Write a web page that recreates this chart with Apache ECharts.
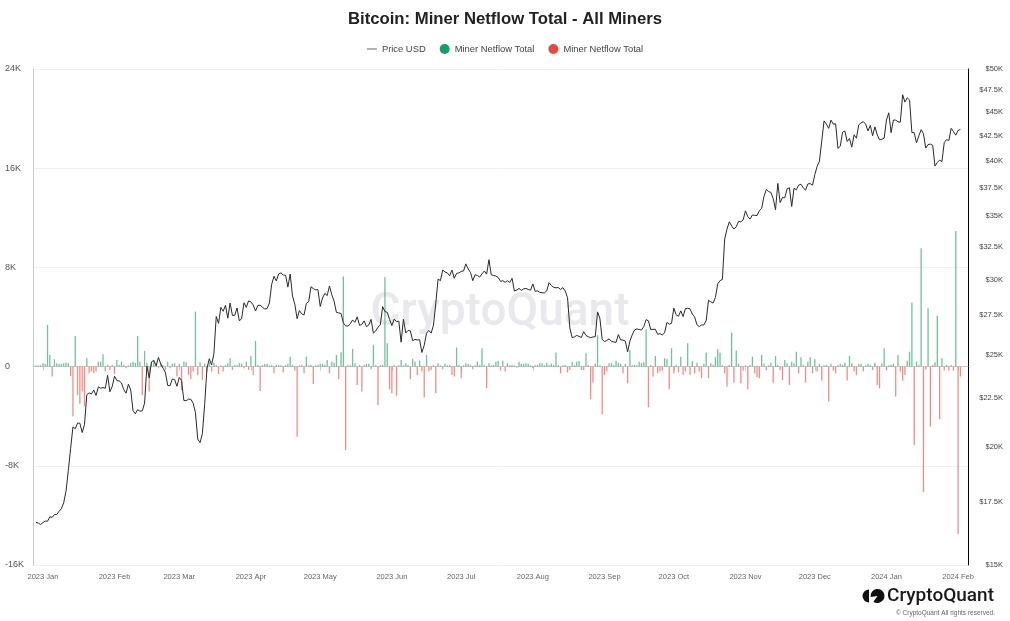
<!DOCTYPE html>
<html>
<head>
<meta charset="utf-8">
<script src="https://cdn.jsdelivr.net/npm/echarts@6/dist/echarts.min.js"></script>
<style>html,body{margin:0;padding:0;background:#fff}#c{width:1010px;height:621px}</style>
</head>
<body>
<div id="c"></div>
<script>
// ---- Data (daily) ----
const monthNames = ['Jan','Feb','Mar','Apr','May','Jun','Jul','Aug','Sep','Oct','Nov','Dec'];
const leftTicks = [-16000, -8000, 0, 8000, 16000, 24000];
const rightTicks = [15000,17500,20000,22500,25000,27500,30000,32500,35000,37500,40000,42500,45000,47500,50000];

// Price USD per day
const px2022Dec = [16634,16607,16547]; // from Dec 29
const px2023Jan = [16625,16688,16680,16863,16836,16951,16955,17091,17196,17446,17934,18869,19910,20976,20880,21170,21161,20688,21086,22676,22777,22720,22934,22636,23117,23032,23078,23032,23774,22840,23139];
const px2023Feb = [23723,23471,23449,23331,22955,22760,23264,22939,21819,21651,21870,21788,21808,22220,24307,23623,24565,24641,24327,24829,24436,24188,23947,23199,23175,23561,23522,23147];
const px2023Mar = [23646,23475,22362,22353,22435,22429,22219,21718,20363,20187,20633,22163,24197,24746,24375,25052,27423,26965,28038,27767,28175,27307,28333,27493,27494,27994,27139,27268,28348,28033,28478];
const px2023Apr = [28411,28199,27790,28168,28177,28044,27925,27947,28333,29653,30235,29892,30399,30485,30318,30315,29445,30397,28823,28245,27276,27817,27591,27525,28307,28422,29473,29340,29248,29268];
const px2023May = [28091,28680,29006,28847,29534,28905,28454,27694,27659,27621,27000,26804,26785,26930,27192,27036,27399,26832,26890,27129,26753,26851,27225,26334,26476,26719,26868,28085,27745,27702,27219];
const px2023Jun = [26819,27249,27075,27119,25760,27238,26346,26508,26480,25851,25940,25902,25918,25124,25576,26327,26510,26336,26852,28327,30027,29912,30695,30548,30481,30271,30689,30086,30446,30477];
const px2023Jul = [30590,30620,31156,30777,30514,29910,30346,30292,30171,30414,30620,30391,31476,30334,30295,30249,30145,29856,29913,29792,29908,29771,30084,29176,29228,29354,29210,29319,29357,29275,29230];
const px2023Aug = [29675,29152,29178,29075,29042,29041,29180,29766,29561,29429,29397,29415,29282,29408,29170,28701,26664,26049,26097,26189,26125,26056,26432,26181,26105,26046,26090,26106,27728,27297,25931];
const px2023Sep = [25800,25869,25969,25813,25780,25753,26241,25906,25895,25832,25163,25834,26228,26539,26608,26568,26535,26755,27211,27132,26567,26579,26580,26257,26298,26217,26353,27022,26911,26967];
const px2023Oct = [27983,27530,27430,27799,27415,27946,27968,27936,27583,27392,26873,26756,26862,26861,27159,28519,28415,28328,28719,29682,29918,29993,33086,33901,34502,34156,33909,34089,34538,34502,34667];
const px2023Nov = [35437,34938,34732,35082,35049,35037,35443,35655,36693,37313,37138,37054,36502,35537,37880,36154,36596,36585,37386,37476,35813,37432,37289,37720,37796,37479,37254,37831,37858,37712];
const px2023Dec = [38688,39476,39978,41980,44080,43746,43292,44166,43725,43779,41243,41450,42890,43023,41929,42240,41364,42623,42270,43652,43869,43997,43739,43016,43613,42520,43442,42627,42099,42156,42265];
const px2024Jan = [44167,44957,42849,44179,44162,43989,43943,46970,46139,46627,46368,42853,42842,41796,42511,43154,42742,41262,41618,41665,41545,39507,39846,40077,39933,41816,42120,42035,43288,42952,42582];
const px2024Feb = [43075,43185];

// Miner Netflow Total per day (BTC)
const nf2022Dec = [100,80,100];
const nf2023Jan = [270,200,3360,940,-800,600,270,220,220,270,320,270,-750,-4000,2470,-2300,-3000,-2000,-3200,670,-540,-400,-540,-400,400,400,1000,-400,150,-270,130];
const nf2023Feb = [-600,540,130,400,130,-130,100,270,400,320,2470,400,-2300,1260,300,-2000,300,540,270,-130,270,130,-270,400,-130,220,270,-800];
const nf2023Mar = [220,-1900,400,350,-670,-1000,-400,4440,-670,350,-1070,220,-400,400,-400,320,130,-600,100,-400,100,270,670,-270,130,100,270,220,-130,400,-270];
const nf2023Apr = [860,-670,2070,130,-1960,130,220,220,100,130,-540,130,130,100,-460,130,220,800,130,-320,-5650,100,130,-540,800,100,130,-1400,100,130];
const nf2023May = [220,220,130,540,-540,400,320,940,-1000,1150,7260,-6720,130,100,1420,270,-1480,130,-2000,130,220,220,-220,1750,100,-3100,100,130,7200,1880,-1830];
const nf2023Jun = [-2150,130,-2370,100,540,100,270,130,-1000,620,400,-670,480,-400,-2500,940,-400,-270,130,-2150,270,100,-220,220,100,130,-670,-800,1530,130];
const nf2023Jul = [-940,100,270,220,130,-220,100,400,130,1480,100,-1750,270,100,130,400,460,-320,480,-400,270,100,130,100,-100,400,220,220,270,220,100];
const nf2023Aug = [-130,100,130,270,270,100,320,130,220,130,1130,100,-540,100,130,-480,-270,400,130,400,460,-270,-270,1070,130,-2630,-1300,220,2530,100,-3840];
const nf2023Sep = [-670,-400,270,270,130,480,320,220,-540,220,-1340,1340,100,130,100,400,270,350,3000,-3280,130,-800,860,-540,-400,-320,670,600,-1830,1480];
const nf2023Oct = [-540,130,-460,800,-670,-400,1880,-670,460,-540,320,-400,-940,220,1130,-940,270,130,750,1400,1130,100,-540,-1600,130,2740,-1300,1290,220,-1340,-320];
const nf2023Nov = [100,-1830,130,800,-540,-860,-940,940,220,-270,100,320,-1300,860,130,-270,-1070,540,270,-1480,400,270,1200,-540,750,130,-1300,400,750,-540];
const nf2023Dec = [600,-400,220,-1130,100,130,-2820,220,-320,-540,100,220,130,320,-1130,860,270,-400,-670,220,220,-400,100,220,130,-270,320,-1480,-1750,270,1480];
const nf2024Jan = [-270,100,130,220,-2420,940,-400,-1130,-670,460,1200,5160,-6320,400,130,9540,-10100,-220,4700,-4840,130,350,4100,-4250,670,-320,130,-320,130,-320,10940];
const nf2024Feb = [-13500,-800];

// [year, monthIndex, firstDay, prices, netflows]
const monthTable = [
  [2022,11,29,px2022Dec,nf2022Dec],
  [2023,0,1,px2023Jan,nf2023Jan],[2023,1,1,px2023Feb,nf2023Feb],[2023,2,1,px2023Mar,nf2023Mar],
  [2023,3,1,px2023Apr,nf2023Apr],[2023,4,1,px2023May,nf2023May],[2023,5,1,px2023Jun,nf2023Jun],
  [2023,6,1,px2023Jul,nf2023Jul],[2023,7,1,px2023Aug,nf2023Aug],[2023,8,1,px2023Sep,nf2023Sep],
  [2023,9,1,px2023Oct,nf2023Oct],[2023,10,1,px2023Nov,nf2023Nov],[2023,11,1,px2023Dec,nf2023Dec],
  [2024,0,1,px2024Jan,nf2024Jan],[2024,1,1,px2024Feb,nf2024Feb]
];

const priceData = [], nfPos = [], nfNeg = [];
monthTable.forEach(([y, m, d0, px, nf]) => {
  px.forEach((v, i) => {
    const t = new Date(y, m, d0 + i).getTime();
    priceData.push([t, v]);
    const f = nf[i];
    if (f > 0) nfPos.push([t, f]);
    else if (f < 0) nfNeg.push([t, f]);
  });
});

const SANS = "'Liberation Sans', Arial, Helvetica, sans-serif";
const NARROW = "'Liberation Sans Narrow', 'Arial Narrow', 'Liberation Sans', Arial, sans-serif";

const chart = echarts.init(document.getElementById('c'), null, {renderer: 'canvas'});
chart.setOption({
  animation: false,
  backgroundColor: '#fff',
  title: {
    text: 'Bitcoin: Miner Netflow Total - All Miners',
    left: 'center', top: 6,
    textStyle: {fontSize: 16.7, fontWeight: 'bold', color: '#222', fontFamily: SANS}
  },
  legend: {
    top: 39, left: 'center',
    itemWidth: 10, itemHeight: 10, itemGap: 14,
    symbolKeepAspect: true,
    textStyle: {fontSize: 9.4, color: '#444', fontFamily: SANS},
    formatter: n => n.trim(),
    data: [
      {name: 'Price USD', icon: 'path://M0,0H10V1.3H0Z', itemStyle: {color: '#888'}},
      {name: 'Miner Netflow Total', icon: 'circle', itemStyle: {color: '#13a064', opacity: 1}},
      {name: 'Miner Netflow Total ', icon: 'circle', itemStyle: {color: '#f1453a', opacity: 1}}
    ]
  },
  grid: {left: 33, right: 42, top: 69, bottom: 56, containLabel: false},
  xAxis: {
    type: 'time',
    min: new Date(2022, 11, 28).getTime(),
    max: new Date(2024, 1, 5).getTime(),
    splitNumber: 14,
    axisLine: {show: true, lineStyle: {color: '#ccc'}},
    axisTick: {show: true, length: 4, lineStyle: {color: '#ccc'}},
    splitLine: {show: false},
    axisLabel: {
      fontSize: 7.5, color: '#666', margin: 8, fontFamily: NARROW,
      formatter: v => { const d = new Date(v); return d.getFullYear() + ' ' + monthNames[d.getMonth()]; }
    }
  },
  yAxis: [
    {
      type: 'value', min: leftTicks[0], max: leftTicks[leftTicks.length - 1], interval: 8000,
      position: 'left',
      axisLine: {show: true, lineStyle: {color: '#ccc'}},
      axisTick: {show: false},
      splitLine: {show: true, lineStyle: {color: '#f0f0f0'}},
      axisLabel: {
        align: 'left', margin: 28, fontSize: 9, color: '#555', fontFamily: SANS,
        formatter: v => v === 0 ? '0' : (v / 1000) + 'K'
      }
    },
    {
      type: 'log', logBase: 10, min: rightTicks[0], max: rightTicks[rightTicks.length - 1],
      position: 'right',
      axisLine: {show: true, lineStyle: {color: '#000'}},
      axisTick: {show: false},
      splitLine: {show: false},
      axisLabel: {
        customValues: rightTicks,
        align: 'right', margin: 35, fontSize: 7.5, color: '#444', fontFamily: NARROW,
        formatter: v => '$' + (Math.round(v / 100) / 10) + 'K'
      }
    }
  ],
  graphic: [
    {type: 'text', z: 0, silent: true,
     style: {text: 'CryptoQuant', x: 500, y: 313, textAlign: 'center', textVerticalAlign: 'middle',
             font: '500 46px Roboto, sans-serif', fill: 'rgba(200,200,212,0.42)'}},
    {type: 'sector', shape: {cx: 869, cy: 596, r: 6.5, r0: 0, startAngle: Math.PI / 2, endAngle: Math.PI * 1.5}, style: {fill: '#111'}},
    {type: 'sector', shape: {cx: 877.5, cy: 596, r: 7, r0: 0, startAngle: Math.PI * 0.95, endAngle: Math.PI * 0.95 + Math.PI * 1.75}, style: {fill: '#111'}},
    {type: 'text', style: {text: 'CryptoQuant', x: 887, y: 596, textVerticalAlign: 'middle',
             font: '500 19px Roboto, sans-serif', fill: '#1a1a1a'}},
    {type: 'text', style: {text: '\u00a9 CryptoQuant All rights reserved.', x: 995, y: 613, textAlign: 'right', textVerticalAlign: 'middle',
             font: '6.5px ' + SANS, fill: '#666'}}
  ],
  series: [
    {name: 'Miner Netflow Total', type: 'bar', yAxisIndex: 0, data: nfPos, barWidth: 1.3, barGap: '-100%',
     itemStyle: {color: '#3fae7a', opacity: 0.75}, z: 2},
    {name: 'Miner Netflow Total ', type: 'bar', yAxisIndex: 0, data: nfNeg, barWidth: 1.3, barGap: '-100%',
     itemStyle: {color: '#f2655a', opacity: 0.75}, z: 2},
    {name: 'Price USD', type: 'line', yAxisIndex: 1, data: priceData, showSymbol: false, symbol: 'none',
     lineStyle: {color: '#2b2b2b', width: 1}, itemStyle: {color: '#2b2b2b'}, z: 3}
  ]
});
</script>
</body>
</html>
